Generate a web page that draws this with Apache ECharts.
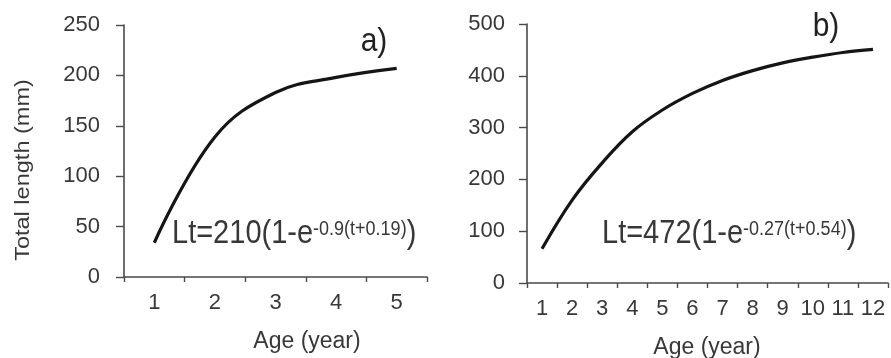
<!DOCTYPE html>
<html><head><meta charset="utf-8">
<script src="https://cdn.jsdelivr.net/npm/echarts@6/dist/echarts.min.js"></script>
<style>html,body{margin:0;padding:0;background:#fff;}#c{width:891px;height:358px;}</style>
</head><body><div id="c"></div>
<script>
var ageA = ['1','2','3','4','5'];
var lenA = [34, 139, 183, 198, 207];
var ageB = ['1','2','3','4','5','6','7','8','9','10','11','12'];
var lenB = [66, 160, 232, 292, 334, 366, 391, 410, 425, 436, 445, 451];
var yTicksA = {min:0, max:250, interval:50};
var yTicksB = {min:0, max:500, interval:100};

var FONT = '"Liberation Sans", Arial, sans-serif';
var TXT = '#383838';
var AX = '#4a4a4a';

function xAxis(idx, data){
  return {gridIndex: idx, type:'category', data: data, boundaryGap:true,
    axisLine:{show:true, lineStyle:{color:AX, width:1.6}},
    axisTick:{show:true, length:5, lineStyle:{color:AX, width:1.4}},
    axisLabel:{color:TXT, fontSize:22, fontFamily:FONT, margin:15, interval:0},
    splitLine:{show:false}};
}
function yAxis(idx, t, margin){
  return {gridIndex: idx, type:'value', min:t.min, max:t.max, interval:t.interval,
    axisLine:{show:true, lineStyle:{color:AX, width:1.6}},
    axisTick:{show:true, length:8, lineStyle:{color:AX, width:1.4}},
    axisLabel:{color:TXT, fontSize:22, fontFamily:FONT, margin:margin},
    splitLine:{show:false}};
}
function eq(x, y, a, b){
  return {type:'text', x:x, y:y, scaleY:1.15, style:{
    text:'{m|'+a+'}{s|'+b+'}{m|)}', fontFamily:FONT, verticalAlign:'middle',
    rich:{m:{fontSize:29, fill:TXT, fontFamily:FONT}, s:{fontSize:18, fill:TXT, fontFamily:FONT, padding:[0,0,8,0]}}}};
}
var chart = echarts.init(document.getElementById('c'), null, {renderer:'canvas'});
chart.setOption({
  animation:false,
  backgroundColor:'#fff',
  grid:[{left:124, top:25, width:303, height:252},{left:527, top:24, width:361, height:259}],
  xAxis:[xAxis(0, ageA), xAxis(1, ageB)],
  yAxis:[yAxis(0, yTicksA, 24), yAxis(1, yTicksB, 22)],
  series:[
    {type:'line', xAxisIndex:0, yAxisIndex:0, data:lenA, smooth:0.4, showSymbol:false, lineStyle:{color:'#151515', width:3.2}},
    {type:'line', xAxisIndex:1, yAxisIndex:1, data:lenB, smooth:0.4, showSymbol:false, lineStyle:{color:'#151515', width:3.2}}
  ],
  graphic:[
    {type:'text', x:23, y:170, rotation:Math.PI/2, scaleX:1.12, style:{text:'Total length (mm)', fontSize:21, fontFamily:FONT, fill:TXT, align:'center', verticalAlign:'middle'}},
    {type:'text', x:307, y:342, style:{text:'Age (year)', fontSize:23, fontFamily:FONT, fill:TXT, align:'center', verticalAlign:'middle'}},
    {type:'text', x:707, y:348, style:{text:'Age (year)', fontSize:23, fontFamily:FONT, fill:TXT, align:'center', verticalAlign:'middle'}},
    {type:'text', x:374, y:42, scaleY:1.1, style:{text:'a)', fontSize:30, fontFamily:FONT, fill:'#222', align:'center', verticalAlign:'middle'}},
    {type:'text', x:826, y:27, scaleY:1.1, style:{text:'b)', fontSize:30, fontFamily:FONT, fill:'#222', align:'center', verticalAlign:'middle'}},
    eq(172, 234, 'Lt=210(1-e', '-0.9(t+0.19)'),
    eq(602, 234, 'Lt=472(1-e', '-0.27(t+0.54)')
  ]
});
</script></body></html>
